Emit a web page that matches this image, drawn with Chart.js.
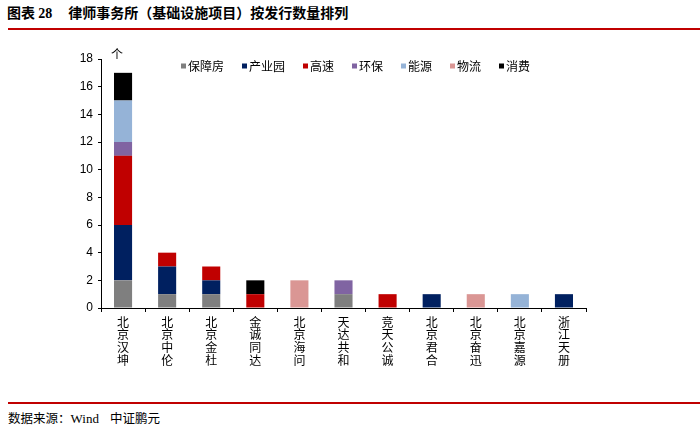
<!DOCTYPE html>
<html>
<head>
<meta charset="utf-8">
<script src="https://cdn.jsdelivr.net/npm/chart.js@4.4.0/dist/chart.umd.min.js"></script>
<style>
  html, body { margin: 0; padding: 0; background: #fff; }
  body { width: 700px; height: 432px; position: relative; overflow: hidden;
         font-family: "Noto Sans CJK SC", sans-serif; color: #000; }
  #title { position: absolute; left: 7px; top: 2px; font-size: 14px; font-weight: bold; white-space: nowrap; }
  #title .num { font-family: "Liberation Serif", serif; font-size: 14px; }
  #title .gap { display: inline-block; width: 16px; }
  .rule { position: absolute; left: 8px; right: 0; height: 2px; background: #c00000; }
  #source { position: absolute; left: 8px; top: 408px; font-size: 12.5px; white-space: nowrap; }
  #source .en { font-family: "Liberation Serif", serif; font-size: 13px; }
  #wrap { position: absolute; left: 0; top: 35px; width: 700px; height: 360px; }
</style>
</head>
<body>
<div id="title">图表 <span class="num">28</span><span class="gap"></span>律师事务所（基础设施项目）按发行数量排列</div>
<div class="rule" style="top:28px"></div>
<div id="wrap"><canvas id="chart"></canvas></div>
<div class="rule" style="top:402px"></div>
<div id="source">数据来源：<span class="en">Wind</span>&nbsp;&nbsp;&nbsp; 中证鹏元</div>
<script>
// law firms
const firms = ['北京汉坤', '北京中伦', '北京金杜', '金诚同达', '北京海问', '天达共和',
               '竞天公诚', '北京君合', '北京奋迅', '北京嘉源', '浙江天册'];

// counts per project type (null = none)
const baozhangfang = [2, 1, 1, null, null, 1, null, null, null, null, null];
const chanyeyuan   = [4, 2, 1, null, null, null, null, 1, null, null, 1];
const gaosu        = [5, 1, 1, 1, null, null, 1, null, null, null, null];
const huanbao      = [1, null, null, null, null, 1, null, null, null, null, null];
const nengyuan     = [3, null, null, null, null, null, null, null, null, 1, null];
const wuliu        = [null, null, null, null, 2, null, null, null, 1, null, null];
const xiaofei      = [2, null, null, 1, null, null, null, null, null, null, null];

const yTicks = [0, 2, 4, 6, 8, 10, 12, 14, 16, 18];

const series = [
    { label: '保障房', data: baozhangfang, color: '#7f7f7f' },
    { label: '产业园', data: chanyeyuan, color: '#002060' },
    { label: '高速', data: gaosu, color: '#c00000' },
    { label: '环保', data: huanbao, color: '#8064a2' },
    { label: '能源', data: nengyuan, color: '#95b3d7' },
    { label: '物流', data: wuliu, color: '#da9694' },
    { label: '消费', data: xiaofei, color: '#000000' }
];

const CJK = '"Noto Sans CJK SC", sans-serif';
const LAT = '"Liberation Sans", Arial, sans-serif';

// legend drawn over the top of the plot, like the original
const topLegend = {
    id: 'topLegend',
    afterDraw(chart) {
        const ctx = chart.ctx;
        ctx.save();
        ctx.font = '12px ' + CJK;
        ctx.textBaseline = 'middle';
        let x = 181;
        const y = 31;
        chart.data.datasets.forEach(ds => {
            ctx.fillStyle = ds.backgroundColor;
            ctx.fillRect(x, y - 2.5, 5, 5);
            x += 7;
            ctx.fillStyle = '#000';
            ctx.fillText(ds.label, x, y);
            x += ctx.measureText(ds.label).width + 18;
        });
        ctx.restore();
    }
};

// unit label above the y axis
const unitLabel = {
    id: 'unitLabel',
    afterDraw(chart) {
        const ctx = chart.ctx;
        const y = chart.scales.y;
        ctx.save();
        ctx.font = '12px ' + CJK;
        ctx.fillStyle = '#000';
        ctx.textAlign = 'center';
        ctx.textBaseline = 'middle';
        ctx.fillText('个', y.right + 16, chart.chartArea.top - 5);
        ctx.restore();
    }
};

new Chart(document.getElementById('chart').getContext('2d'), {
    type: 'bar',
    data: {
        labels: firms.map(f => f.split('')),
        datasets: series.map(s => ({
            label: s.label,
            data: s.data,
            backgroundColor: s.color,
            borderWidth: 0,
            barPercentage: 0.41,
            categoryPercentage: 1
        }))
    },
    options: {
        responsive: true,
        maintainAspectRatio: false,
        animation: false,
        layout: { padding: { top: 24, right: 114, left: 0, bottom: 0 } },
        plugins: { legend: { display: false }, tooltip: { enabled: false } },
        scales: {
            x: {
                stacked: true,
                grid: { display: true, drawOnChartArea: false, drawTicks: true, tickLength: 4, color: '#000' },
                border: { display: true, color: '#000', width: 1 },
                ticks: { color: '#000', font: { family: CJK, size: 12, lineHeight: 1.05 }, maxRotation: 0, padding: 4 },
                afterFit(scale) { scale.height = 87; }
            },
            y: {
                stacked: true,
                min: 0,
                max: 18,
                afterBuildTicks(scale) { scale.ticks = yTicks.map(v => ({ value: v })); },
                grid: { display: true, drawOnChartArea: false, drawTicks: true, tickLength: 3, color: '#000' },
                border: { display: true, color: '#000', width: 1 },
                ticks: { color: '#000', font: { family: LAT, size: 12 }, padding: 5 },
                afterFit(scale) { scale.width = 101; }
            }
        }
    },
    plugins: [topLegend, unitLabel]
});
</script>
</body>
</html>
